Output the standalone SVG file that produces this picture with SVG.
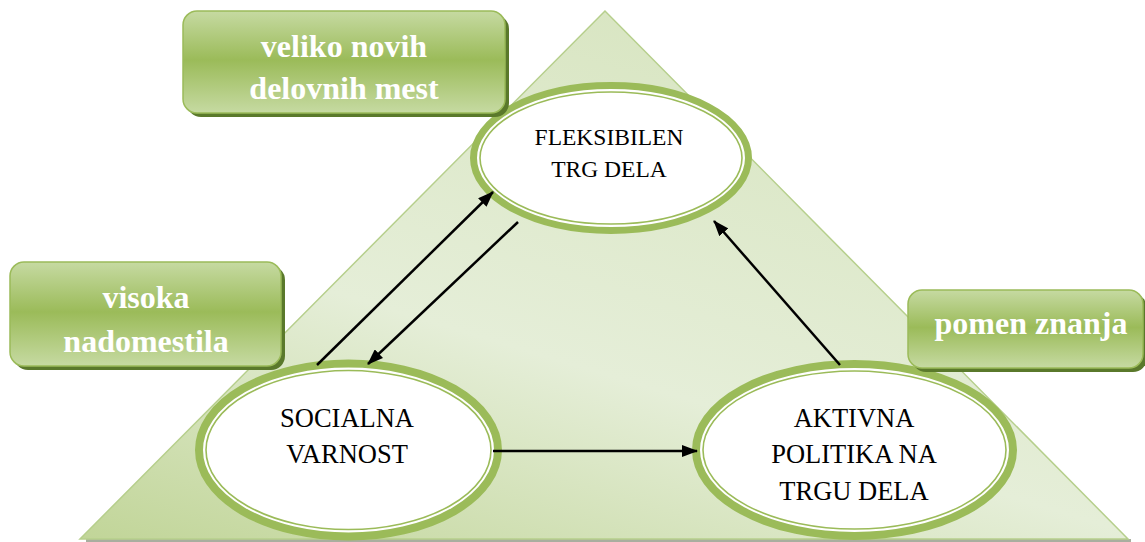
<svg xmlns="http://www.w3.org/2000/svg" width="1145" height="542" viewBox="0 0 1145 542">
<defs>
<linearGradient id="triGrad" x1="0" y1="1" x2="0.6" y2="0">
<stop offset="0" stop-color="#c1d598"/>
<stop offset="0.45" stop-color="#e5eed8"/>
<stop offset="1" stop-color="#d8e5c1"/>
</linearGradient>
<linearGradient id="boxGrad" x1="0" y1="0" x2="0" y2="1">
<stop offset="0" stop-color="#c6daa2"/>
<stop offset="0.48" stop-color="#9bbb59"/>
<stop offset="1" stop-color="#c6daa2"/>
</linearGradient>
<marker id="arrow" markerUnits="userSpaceOnUse" markerWidth="16" markerHeight="12" refX="15" refY="6" orient="auto">
<path d="M0,0 L16,6 L0,12 Z" fill="#000"/>
</marker>
</defs>
<style>
.ring{fill:#ffffff;stroke:#9bbb59}
.inner{fill:none;stroke:#9bbb59;stroke-width:1.6}
.etext{fill:#000;text-anchor:middle}
.btext{font-weight:bold;font-size:32px;fill:#ffffff;text-anchor:middle}
.face{fill:url(#boxGrad);stroke:#9bbb59;stroke-width:1.5}
.shadow{fill:#5a792b}
.conn{stroke:#000;stroke-width:2.5;fill:none;marker-end:url(#arrow)}
</style>

<g id="background">
<rect x="86" y="539" width="1045" height="3" fill="#a9ae9f"/>
<polygon points="605,11 80,539 1128,539" fill="url(#triGrad)" stroke="#b6cf8c" stroke-width="1.5"/>
</g>

<g id="node-fleksibilen" font-family="'Liberation Serif', 'DejaVu Serif', serif">
<ellipse class="ring" cx="611" cy="158" rx="137.5" ry="72.5" stroke-width="7"/>
<ellipse class="inner" cx="611" cy="158" rx="131" ry="66"/>
<text class="etext" font-size="23.5" x="609" y="145">FLEKSIBILEN</text>
<text class="etext" font-size="23.5" x="609" y="177">TRG DELA</text>
</g>

<g id="node-socialna" font-family="'Liberation Serif', 'DejaVu Serif', serif">
<ellipse class="ring" cx="348.5" cy="450" rx="149.5" ry="86.5" stroke-width="8"/>
<ellipse class="inner" cx="348.5" cy="450" rx="142.5" ry="79.5"/>
<text class="etext" font-size="26.5" x="347" y="427">SOCIALNA</text>
<text class="etext" font-size="26.5" x="347" y="463">VARNOST</text>
</g>

<g id="node-aktivna" font-family="'Liberation Serif', 'DejaVu Serif', serif">
<ellipse class="ring" cx="854.5" cy="450" rx="158.5" ry="86" stroke-width="8"/>
<ellipse class="inner" cx="854.5" cy="450" rx="151.5" ry="79"/>
<text class="etext" font-size="26.5" x="854" y="427">AKTIVNA</text>
<text class="etext" font-size="26.5" x="854" y="463">POLITIKA NA</text>
<text class="etext" font-size="26.5" x="854" y="500">TRGU DELA</text>
</g>

<g id="connectors">
<line class="conn" x1="317" y1="365" x2="493" y2="192"/>
<line class="conn" x1="518" y1="222" x2="368" y2="364"/>
<line class="conn" x1="493" y1="451" x2="697" y2="451"/>
<line class="conn" x1="840" y1="365" x2="714" y2="221"/>
</g>

<g id="box-veliko" font-family="'Liberation Serif', 'DejaVu Serif', serif">
<rect class="shadow" x="187" y="15" width="322" height="102" rx="14"/>
<rect class="face" x="183" y="11" width="322" height="102" rx="14"/>
<text class="btext" x="344" y="57">veliko novih</text>
<text class="btext" x="344" y="99">delovnih mest</text>
</g>

<g id="box-visoka" font-family="'Liberation Serif', 'DejaVu Serif', serif">
<rect class="shadow" x="14" y="266" width="271" height="104" rx="14"/>
<rect class="face" x="10" y="262" width="271" height="104" rx="14"/>
<text class="btext" x="146" y="308">visoka</text>
<text class="btext" x="146" y="352">nadomestila</text>
</g>

<g id="box-pomen" font-family="'Liberation Serif', 'DejaVu Serif', serif">
<rect class="shadow" x="912" y="294" width="235" height="78" rx="14"/>
<rect class="face" x="908" y="290" width="235" height="78" rx="14"/>
<text class="btext" x="1031" y="334">pomen znanja</text>
</g>
</svg>
